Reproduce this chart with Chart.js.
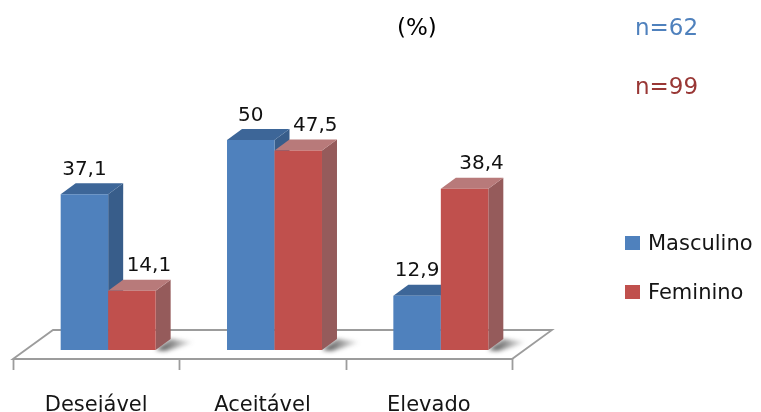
<!DOCTYPE html>
<html>
<head>
<meta charset="utf-8">
<script src="https://cdn.jsdelivr.net/npm/chart.js@4/dist/chart.umd.min.js"></script>
<style>
  html, body { margin: 0; padding: 0; background: #ffffff; }
  canvas { display: block; }
</style>
</head>
<body>
<canvas id="c" width="761" height="412"></canvas>
<script>
// Categories and series values (%)
const categories = ['Desejável', 'Aceitável', 'Elevado'];
const seriesNames = ['Masculino', 'Feminino'];
const masculino = [37.1, 50, 12.9];
const feminino = [14.1, 47.5, 38.4];
const sampleSizes = ['n=62', 'n=99'];
const unitLabel = '(%)';

const FONT = '"DejaVu Sans", sans-serif';
const frontColors = ['#4f81bd', '#c0504d'];
const sideColors = ['#385d8a', '#955b5b'];
const topColors = ['#3d6698', '#b87a7a'];
const sampleColors = ['#4f81bd', '#993735'];
const labelShift = [0, 17];

// 3D depth of each bar (to the right and up)
const DX = 15, DY = 11;

function fmt(v) { return String(v).replace('.', ','); }

const bars3d = {
  id: 'bars3d',
  beforeDatasetsDraw(chart) {
    const ctx = chart.ctx;
    const xs = chart.scales.x, ys = chart.scales.y;
    const base = ys.getPixelForValue(0);
    const n = categories.length;
    const w = (xs.right - xs.left) / n;

    // floor
    const fy = base + 9, by = base - 20;
    const fx0 = xs.left - 12, fx1 = xs.right - 12;
    const bx0 = xs.left + 28, bx1 = xs.right + 28;
    ctx.save();
    ctx.beginPath();
    ctx.moveTo(fx0, fy); ctx.lineTo(bx0, by); ctx.lineTo(bx1, by); ctx.lineTo(fx1, fy);
    ctx.closePath();
    ctx.fillStyle = '#ffffff';
    ctx.fill();
    ctx.strokeStyle = '#9c9c9c';
    ctx.lineWidth = 1.8;
    ctx.stroke();
    ctx.beginPath();
    for (let k = 0; k <= n; k++) {
      const tx = Math.round(fx0 + k * w) + 0.5;
      ctx.moveTo(tx, fy); ctx.lineTo(tx, fy + 11);
    }
    ctx.stroke();
    ctx.restore();

    const metas = chart.data.datasets.map((d, i) => chart.getDatasetMeta(i));

    // soft shadows behind each group
    for (let j = 0; j < n; j++) {
      const el = metas[metas.length - 1].data[j];
      const p = el.getProps(['x', 'base', 'width'], true);
      const r = p.x + p.width / 2;
      const b = p.base;
      ctx.save();
      ctx.filter = 'blur(2px)';
      const g = ctx.createLinearGradient(r + 4, 0, r + DX + 24, 0);
      g.addColorStop(0, 'rgba(40,40,40,0.8)');
      g.addColorStop(1, 'rgba(40,40,40,0)');
      ctx.fillStyle = g;
      ctx.beginPath();
      ctx.moveTo(r, b);
      ctx.lineTo(r + DX, b - DY);
      ctx.lineTo(r + DX + 24, b - DY + 3);
      ctx.lineTo(r + 10, b + 1);
      ctx.closePath();
      ctx.fill();
      ctx.restore();
    }

    // bars: side and top faces, then front face drawn by the bar element
    for (let j = 0; j < n; j++) {
      metas.forEach((meta, i) => {
        const el = meta.data[j];
        const p = el.getProps(['x', 'y', 'base', 'width'], true);
        const l = p.x - p.width / 2, r = p.x + p.width / 2;
        const t = p.y, b = p.base;
        ctx.save();
        ctx.fillStyle = sideColors[i];
        ctx.beginPath();
        ctx.moveTo(r, t); ctx.lineTo(r + DX, t - DY); ctx.lineTo(r + DX, b - DY); ctx.lineTo(r, b);
        ctx.closePath();
        ctx.fill();
        ctx.fillStyle = topColors[i];
        ctx.beginPath();
        ctx.moveTo(l, t); ctx.lineTo(l + DX, t - DY); ctx.lineTo(r + DX, t - DY); ctx.lineTo(r, t);
        ctx.closePath();
        ctx.fill();
        ctx.restore();
        el.draw(ctx, chart.chartArea);
      });
    }
    return false;
  },
  afterDraw(chart) {
    const ctx = chart.ctx;
    const xs = chart.scales.x;
    ctx.save();

    // value labels
    ctx.font = '20px ' + FONT;
    ctx.fillStyle = '#111111';
    ctx.textAlign = 'center';
    ctx.textBaseline = 'alphabetic';
    chart.data.datasets.forEach((ds, i) => {
      chart.getDatasetMeta(i).data.forEach((el, j) => {
        const p = el.getProps(['x', 'y'], true);
        ctx.fillText(fmt(ds.data[j]), p.x + labelShift[i], p.y - 19.5);
      });
    });

    // category labels along the front edge of the floor
    ctx.font = '21px ' + FONT;
    ctx.fillStyle = '#151515';
    categories.forEach((c, j) => {
      ctx.fillText(c, xs.getPixelForValue(j) - 12, 411);
    });

    // legend
    ctx.textAlign = 'left';
    ctx.font = '21px ' + FONT;
    const legY = [250, 299];
    seriesNames.forEach((s, i) => {
      ctx.fillStyle = frontColors[i];
      ctx.fillRect(625, legY[i] - 14, 15, 14);
      ctx.fillStyle = '#151515';
      ctx.fillText(s, 648, legY[i]);
    });

    // unit and sample sizes
    ctx.font = '23px ' + FONT;
    ctx.fillStyle = '#000000';
    ctx.fillText(unitLabel, 397, 35);
    ctx.fillStyle = sampleColors[0];
    ctx.fillText(sampleSizes[0], 635, 35);
    ctx.fillStyle = sampleColors[1];
    ctx.fillText(sampleSizes[1], 635, 94);
    ctx.restore();
  }
};

new Chart(document.getElementById('c'), {
  type: 'bar',
  data: {
    labels: categories,
    datasets: [
      { label: seriesNames[0], data: masculino, backgroundColor: frontColors[0], borderWidth: 0 },
      { label: seriesNames[1], data: feminino, backgroundColor: frontColors[1], borderWidth: 0 }
    ]
  },
  options: {
    responsive: false,
    animation: false,
    devicePixelRatio: 1,
    layout: { padding: { left: 25, right: 237, top: 98, bottom: 62 } },
    datasets: { bar: { categoryPercentage: 0.571, barPercentage: 1.0 } },
    plugins: { legend: { display: false }, tooltip: { enabled: false }, title: { display: false } },
    scales: {
      x: { display: false, offset: true },
      y: { display: false, min: 0, max: 60 }
    }
  },
  plugins: [bars3d]
});
</script>
</body>
</html>
